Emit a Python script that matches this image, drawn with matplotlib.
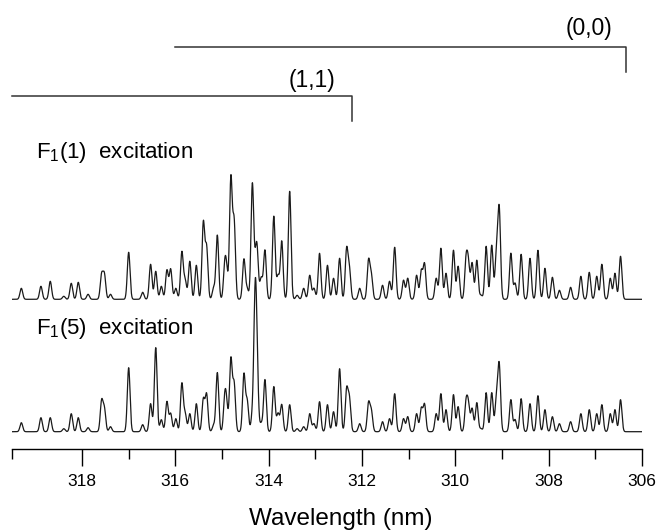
#!/usr/bin/env python3
# -*- coding: utf-8 -*-
"""
LIF excitation spectra of OH A-X, (0,0) and (1,1) bands, recorded with
two different probe lines, F1(1) and F1(5). Each trace is rebuilt from
its list of line positions and peak intensities.
"""

import numpy as np
import matplotlib.pyplot as plt
from matplotlib.ticker import FixedLocator

# line positions (nm), shared by both traces
lineas_nm = [
    319.30, 318.88, 318.68, 318.39, 318.23, 318.08, 317.87, 317.58, 317.52, 317.39,
    317.00, 316.70, 316.53, 316.42, 316.30, 316.18, 316.10, 315.99, 315.86, 315.79,
    315.69, 315.55, 315.40, 315.33, 315.18, 315.10, 314.94, 314.90, 314.81, 314.74,
    314.53, 314.46, 314.35, 314.29, 314.25, 314.16, 314.08, 313.89, 313.80, 313.72,
    313.55, 313.39, 313.25, 313.12, 313.03, 312.91, 312.74, 312.61, 312.48, 312.33,
    312.27, 312.05, 311.86, 311.80, 311.56, 311.41, 311.30, 311.11, 311.02, 310.83,
    310.73, 310.66, 310.41, 310.31, 310.20, 310.04, 309.94, 309.77, 309.72, 309.64,
    309.54, 309.45, 309.34, 309.22, 309.12, 309.06, 308.81, 308.72, 308.59, 308.40,
    308.23, 308.08, 307.92, 307.77, 307.53, 307.31, 307.13, 306.97, 306.86, 306.68,
    306.58, 306.46,
]

# peak intensities (arb. units), F1(1) excitation
int_f1_1 = [
    11, 13, 18, 3, 16, 17, 5, 24, 24, 5,
    47, 7, 35, 28, 13, 29, 30, 11, 47, 19,
    38, 34, 76, 51, 11, 64, 32, 23, 120, 76,
    40, 10, 114, 20, 48, 21, 49, 83, 23, 58,
    108, 4, 11, 24, 11, 46, 34, 21, 41, 49,
    29, 11, 38, 23, 14, 18, 52, 19, 21, 24,
    28, 35, 21, 51, 26, 49, 33, 38, 33, 36,
    39, 4, 53, 54, 44, 89, 46, 16, 45, 41,
    49, 31, 22, 9, 12, 23, 27, 23, 35, 21,
    26, 43,
]

# peak intensities (arb. units), F1(5) excitation
int_f1_5 = [
    9, 14, 14, 3, 18, 14, 4, 30, 22, 5,
    64, 7, 28, 84, 12, 30, 18, 13, 48, 18,
    18, 28, 32, 37, 6, 59, 32, 22, 72, 47,
    57, 30, 15, 127, 57, 8, 52, 45, 18, 27,
    27, 3, 5, 18, 8, 30, 27, 20, 63, 41,
    32, 8, 28, 20, 10, 13, 38, 13, 15, 18,
    23, 27, 18, 38, 22, 37, 25, 28, 25, 23,
    29, 3, 39, 39, 32, 66, 32, 12, 33, 28,
    36, 22, 15, 8, 10, 18, 22, 18, 27, 18,
    22, 32,
]

# band heads marked above the spectra
bandas = ["(0,0)", "(1,1)"]
banda_inicio = [316.0, 319.5]
banda_cabeza = [306.34, 312.22]

etiquetas = ["F$_1$(1)  excitation", "F$_1$(5)  excitation"]

X_MIN, X_MAX = 319.5, 306.0
SIGMA = 0.029          # nm, line width of the probe laser
BASES = [149.7, 17.3]  # vertical offsets of the two traces


def traza(x, centros, alturas, sigma=SIGMA):
    y = np.zeros_like(x)
    for c, a in zip(centros, alturas):
        y += a * np.exp(-0.5 * ((x - c) / sigma) ** 2)
    return y


plt.rcParams['font.family'] = ['Liberation Sans', 'DejaVu Sans']
plt.rcParams['mathtext.fontset'] = 'custom'
plt.rcParams['mathtext.rm'] = 'Liberation Sans'
plt.rcParams['mathtext.default'] = 'regular'

W, H = 657, 531
fig = plt.figure(figsize=(W / 100, H / 100), dpi=100)
ax = fig.add_axes([12 / W, (H - 449) / H, 630 / W, 449 / H])
ax.set_xlim(X_MIN, X_MAX)
ax.set_ylim(0, 449)

x = np.linspace(X_MIN, X_MAX, 8000)
for base, inten in zip(BASES, [int_f1_1, int_f1_5]):
    ax.plot(x, base + traza(x, lineas_nm, inten), color='#1a1a1a', lw=0.9)

# labels for each trace
ax.text(318.98, 291, etiquetas[0], fontsize=16, ha='left', va='baseline')
ax.text(318.98, 115, etiquetas[1], fontsize=16, ha='left', va='baseline')

# band brackets
niveles = [402.3, 353.0]
for nombre, x0, x1, y0 in zip(bandas, banda_inicio, banda_cabeza, niveles):
    ax.plot([x0, x1, x1], [y0, y0, y0 - 25.3], color='#333333', lw=1.1,
            clip_on=False)
ax.text(307.13, 420, bandas[0], fontsize=16.5, ha='center', va='center')
ax.text(313.08, 368, bandas[1], fontsize=16.5, ha='center', va='center')

# axis: bottom spine only
for s in ['left', 'right', 'top']:
    ax.spines[s].set_visible(False)
ax.spines['bottom'].set_linewidth(1.0)
ax.set_yticks([])
ax.xaxis.set_major_locator(FixedLocator([318, 316, 314, 312, 310, 308, 306]))
ax.xaxis.set_minor_locator(FixedLocator([319.5, 317, 315, 313, 311, 309, 307]))
ax.tick_params(axis='x', which='major', direction='out', length=12, width=1.0,
               labelsize=12.5, pad=6)
ax.tick_params(axis='x', which='minor', direction='out', length=7, width=1.0)

fig.text(341 / W, 1 - 519 / H, "Wavelength (nm)", fontsize=17.5,
         ha='center', va='center')

fig.savefig("out.png", dpi=100)
